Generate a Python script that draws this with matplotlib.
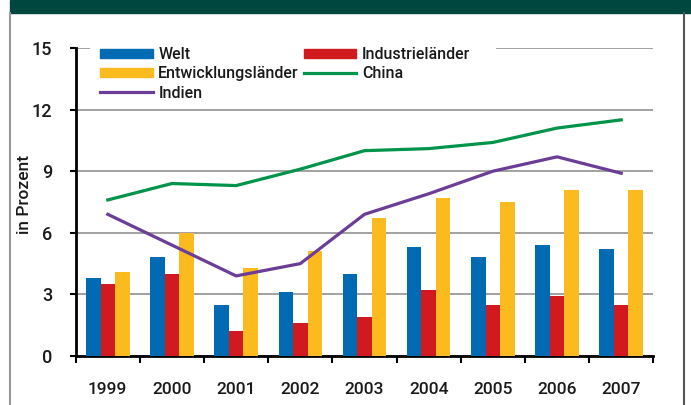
import matplotlib
matplotlib.use("Agg")
import matplotlib.pyplot as plt
import numpy as np
from matplotlib.patches import Rectangle, Patch
from matplotlib.lines import Line2D

years = ["1999", "2000", "2001", "2002", "2003", "2004", "2005", "2006", "2007"]
welt = [3.8, 4.8, 2.5, 3.1, 4.0, 5.3, 4.8, 5.4, 5.2]
industrie = [3.5, 4.0, 1.2, 1.6, 1.9, 3.2, 2.5, 2.9, 2.5]
entwicklung = [4.1, 6.0, 4.3, 5.1, 6.7, 7.7, 7.5, 8.1, 8.1]
china = [7.6, 8.4, 8.3, 9.1, 10.0, 10.1, 10.4, 11.1, 11.5]
indien = [6.9, 5.4, 3.9, 4.5, 6.9, 7.9, 9.0, 9.7, 8.9]
yticks = [0, 3, 6, 9, 12, 15]

C_BLUE = "#006AB2"
C_RED = "#D01A20"
C_YEL = "#FBBA1E"
C_GRN = "#00934A"
C_PUR = "#6B3D97"
C_BAND = "#00473F"
C_TXT = "#1a1a1a"

plt.rcParams["font.family"] = ["Roboto", "DejaVu Sans"]
plt.rcParams["font.weight"] = "medium"
plt.rcParams["text.color"] = C_TXT
plt.rcParams["xtick.labelcolor"] = C_TXT
plt.rcParams["ytick.labelcolor"] = C_TXT

W, H = 691, 405
fig = plt.figure(figsize=(W / 100, H / 100), dpi=100)

def px(x0, y0, x1, y1):
    return [x0 / W, 1 - y1 / H, (x1 - x0) / W, (y1 - y0) / H]

# top band and border
fig.patches.append(Rectangle((10 / W, 1 - 13 / H), 1, 13 / H, transform=fig.transFigure,
                             color=C_BAND, zorder=0))
fig.add_artist(Line2D([10 / W, 10 / W], [0, 1 - 13 / H], transform=fig.transFigure,
                      color="#999999", lw=1.5))
fig.add_artist(Line2D([683.5 / W, 683.5 / W], [0, 1 - 13 / H], transform=fig.transFigure,
                      color="#555555", lw=1.5))

ax = fig.add_axes(px(75.7, 48, 653.3, 356))
x = np.arange(len(years))
bw = 0.226
ax.bar(x - bw, welt, bw, color=C_BLUE, zorder=3, label="Welt")
ax.bar(x, industrie, bw, color=C_RED, zorder=3, label="Industrieländer")
ax.bar(x + bw, entwicklung, bw, color=C_YEL, zorder=3, label="Entwicklungsländer")
ax.plot(x, china, color=C_GRN, lw=2.3, zorder=4, label="China")
ax.plot(x, indien, color=C_PUR, lw=2.3, zorder=4, label="Indien")

ax.set_xlim(-0.5, len(years) - 0.5)
ax.set_ylim(0, 15)
ax.set_yticks(yticks)
ax.set_yticklabels([str(v) for v in yticks], fontsize=13)
ax.yaxis.grid(True, color="#888888", lw=1.1, zorder=1)
ax.set_axisbelow(True)

ax.set_xticks(x)
ax.set_xticklabels(years, fontsize=12.5)
ax.set_xticks(np.arange(len(years) + 1) - 0.5, minor=True)
ax.tick_params(axis="x", which="major", length=0, pad=19)
ax.tick_params(axis="x", which="minor", length=5, width=1.5, direction="out", color="black")
ax.tick_params(axis="y", length=4, width=1.5, pad=13, direction="out", color="black")

for s in ["top", "right"]:
    ax.spines[s].set_visible(False)
ax.spines["left"].set_linewidth(2)
ax.spines["bottom"].set_linewidth(2)

# white cover behind legend over top gridline
ax.add_patch(Rectangle((0.0248, 0.83), 0.703, 0.2, transform=ax.transAxes,
                       facecolor="white", edgecolor="none", zorder=5, clip_on=False))

handles = [Patch(color=C_BLUE), Patch(color=C_YEL), Line2D([], [], color=C_PUR, lw=2.3),
           Patch(color=C_RED), Line2D([], [], color=C_GRN, lw=2.3)]
labels = ["Welt", "Entwicklungsländer", "Indien", "Industrieländer", "China"]
leg = ax.legend(handles, labels, ncol=2, loc="upper left",
                bbox_to_anchor=((100 - 75.7) / 577.6, (356 - 47) / 308),
                frameon=False, fontsize=11.5, handlelength=3.3, handleheight=0.55,
                handletextpad=0.35, columnspacing=0.3, labelspacing=0.27,
                borderpad=0, borderaxespad=0)
leg.set_zorder(6)

fig.text(25 / W, 1 - 194 / H, "in Prozent", rotation=90, ha="center", va="center", fontsize=12.5)

fig.savefig("out.png", dpi=100)
